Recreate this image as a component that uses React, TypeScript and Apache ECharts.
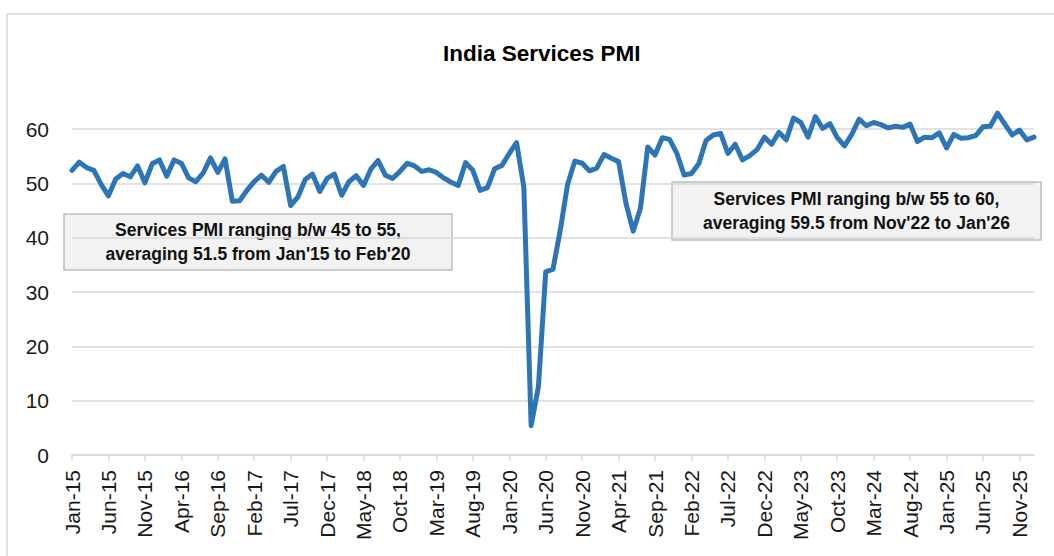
import React, { useEffect, useRef } from "react";
import * as echarts from "echarts";

const MONTHS = ["Jan", "Feb", "Mar", "Apr", "May", "Jun", "Jul", "Aug", "Sep", "Oct", "Nov", "Dec"];
const YEARS = ["15", "16", "17", "18", "19", "20", "21", "22", "23", "24", "25", "26"];

const pmi2015 = [52.4, 53.9, 52.9, 52.4, 49.8, 47.7, 50.8, 51.8, 51.2, 53.2, 50.1, 53.6];
const pmi2016 = [54.3, 51.3, 54.3, 53.7, 51.0, 50.3, 51.9, 54.7, 52.0, 54.5, 46.7, 46.8];
const pmi2017 = [48.7, 50.3, 51.5, 50.2, 52.2, 53.1, 45.9, 47.5, 50.7, 51.7, 48.5, 50.9];
const pmi2018 = [51.7, 47.8, 50.3, 51.4, 49.6, 52.6, 54.2, 51.5, 50.9, 52.2, 53.7, 53.2];
const pmi2019 = [52.2, 52.5, 52.0, 51.0, 50.2, 49.6, 53.8, 52.4, 48.7, 49.2, 52.7, 53.3];
const pmi2020 = [55.5, 57.5, 49.3, 5.4, 12.6, 33.7, 34.2, 41.4, 49.8, 54.1, 53.7, 52.3];
const pmi2021 = [52.8, 55.3, 54.6, 54.0, 46.4, 41.2, 45.4, 56.7, 55.2, 58.4, 58.1, 55.5];
const pmi2022 = [51.5, 51.8, 53.6, 57.9, 58.9, 59.2, 55.5, 57.2, 54.3, 55.1, 56.2, 58.5];
const pmi2023 = [57.2, 59.4, 58.0, 62.0, 61.2, 58.5, 62.3, 60.1, 61.0, 58.4, 56.9, 59.0];
const pmi2024 = [61.8, 60.6, 61.2, 60.8, 60.2, 60.5, 60.3, 60.9, 57.7, 58.5, 58.4, 59.3];
const pmi2025 = [56.5, 59.0, 58.3, 58.4, 58.8, 60.4, 60.5, 62.9, 60.9, 58.9, 59.8, 58.0];
const pmi2026 = [58.5];

const pmiValues = [
  ...pmi2015, ...pmi2016, ...pmi2017, ...pmi2018, ...pmi2019, ...pmi2020,
  ...pmi2021, ...pmi2022, ...pmi2023, ...pmi2024, ...pmi2025, ...pmi2026,
];

const categories: string[] = [];
YEARS.forEach((y) => MONTHS.forEach((m) => categories.push(`${m}-${y}`)));
categories.length = pmiValues.length;

const yTicks = [0, 10, 20, 30, 40, 50, 60];

const titleText = "India Services PMI";
const noteLeft = ["Services PMI ranging b/w 45 to 55,", "averaging 51.5 from Jan'15 to Feb'20"];
const noteRight = ["Services PMI ranging b/w 55 to 60,", "averaging 59.5 from Nov'22 to Jan'26"];

const FONT = "'Liberation Sans', Arial, sans-serif";

export default function App() {
  const ref = useRef<HTMLDivElement>(null);

  useEffect(() => {
    document.body.style.margin = "0";
    const chart = echarts.init(ref.current!, null, { renderer: "svg" });
    const note = (lines: string[], x: number, y: number, w: number, h: number) => ({
      type: "group",
      children: [
        {
          type: "rect",
          shape: { x, y, width: w, height: h },
          style: { fill: "#f2f2f2", stroke: "#bfbfbf", lineWidth: 1.5 },
        },
        {
          type: "text",
          style: {
            text: lines.join("\n"),
            x: x + w / 2,
            y: y + h / 2,
            align: "center",
            verticalAlign: "middle",
            font: `bold 17.5px ${FONT}`,
            lineHeight: 24,
            fill: "#111",
          },
        },
      ],
    });
    chart.setOption({
      animation: false,
      backgroundColor: "#ffffff",
      title: {
        text: titleText,
        left: 438,
        top: 37,
        textStyle: { fontFamily: FONT, fontSize: 22.5, fontWeight: "bold", color: "#000" },
      },
      grid: { left: 72, right: 20, top: 129, bottom: 101, containLabel: false },
      xAxis: {
        type: "category",
        data: categories,
        boundaryGap: false,
        axisLine: { show: true, lineStyle: { color: "#d9d9d9", width: 1.5 } },
        axisTick: { show: true, interval: 4, length: 6, lineStyle: { color: "#d9d9d9", width: 1.5 } },
        axisLabel: {
          interval: 4,
          rotate: 90,
          margin: 15,
          fontSize: 21,
          fontFamily: FONT,
          color: "#1a1a1a",
        },
        splitLine: { show: false },
      },
      yAxis: {
        type: "value",
        min: yTicks[0],
        max: yTicks[yTicks.length - 1],
        interval: 10,
        axisLine: { show: false },
        axisTick: { show: false },
        axisLabel: { margin: 23, fontSize: 21, fontFamily: FONT, color: "#1a1a1a" },
        splitLine: { show: true, lineStyle: { color: "#d9d9d9", width: 1.5 } },
      },
      series: [
        {
          type: "line",
          data: pmiValues,
          showSymbol: false,
          symbol: "none",
          clip: false,
          lineStyle: { color: "#2e75b6", width: 5, cap: "round", join: "round" },
          z: 3,
        },
      ],
      graphic: [
        {
          type: "rect",
          shape: { x: 7, y: 14, width: 1060, height: 560 },
          style: { fill: "none", stroke: "#d9d9d9", lineWidth: 1.5 },
          z: -1,
        },
        note(noteLeft, 64, 214, 388, 56),
        note(noteRight, 672, 182, 369, 58),
      ],
    });
    return () => chart.dispose();
  }, []);

  return (
    <div
      ref={ref}
      style={{ position: "fixed", left: 0, top: 0, width: 1054, height: 556 }}
    />
  );
}
